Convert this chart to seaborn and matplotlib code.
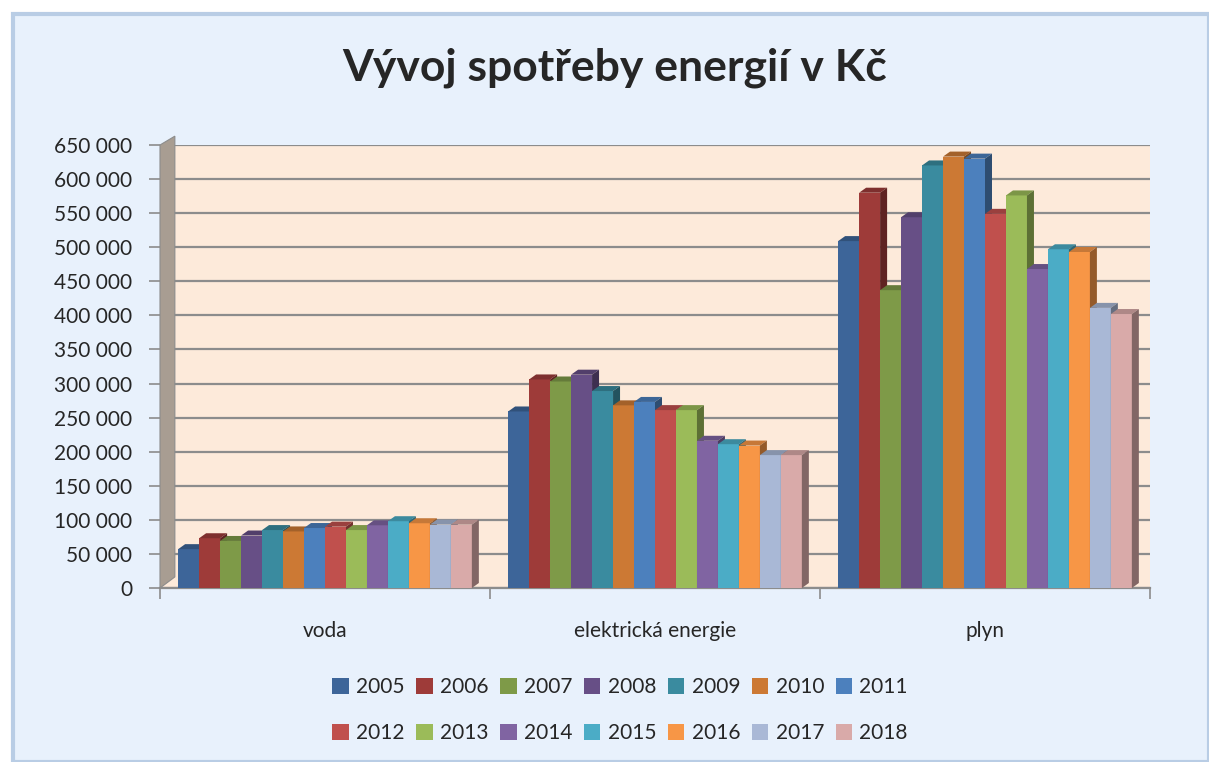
import pandas as pd
import matplotlib.pyplot as plt
import numpy as np
import seaborn as sns
from matplotlib.patches import FancyBboxPatch, Polygon, Patch
from matplotlib.ticker import FuncFormatter, FixedLocator

categories = ["voda", "elektrická energie", "plyn"]
years = ["2005", "2006", "2007", "2008", "2009", "2010", "2011",
         "2012", "2013", "2014", "2015", "2016", "2017", "2018"]
voda = [57000, 73000, 69000, 77000, 85000, 83000, 88000,
        90000, 85000, 92000, 98000, 95000, 93000, 93000]
elektrina = [259000, 306000, 303000, 313000, 289000, 268000, 273000,
             261000, 261000, 216000, 211000, 209000, 195000, 195000]
plyn = [509000, 580000, 437000, 544000, 620000, 633000, 630000,
        549000, 576000, 468000, 497000, 493000, 411000, 402000]
colors = ["#3D6599", "#9E3B39", "#7E9A48", "#674F86", "#3A8B9F", "#CC7934", "#4C80BD",
          "#C0504D", "#9BBB59", "#8064A2", "#4BACC6", "#F79646", "#A9B8D6", "#D9AAA9"]

df = pd.DataFrame({
    "kategorie": np.repeat(categories, len(years)),
    "rok": years * 3,
    "hodnota": voda + elektrina + plyn,
})

sns.set_style("white")
plt.rcParams['font.family'] = ['Lato', 'DejaVu Sans']

fig = plt.figure(figsize=(12.09, 7.62), dpi=100)
fig.patch.set_facecolor("white")
# chart frame
fig.patches.append(FancyBboxPatch((13 / 1209, 0.0), 1 - 13 / 1209, 1 - 14 / 762,
                                  boxstyle="square,pad=0", transform=fig.transFigure,
                                  facecolor="#E8F1FC", edgecolor="#B9CDE5", linewidth=3,
                                  zorder=-10))

ax = fig.add_axes([160 / 1209, 1 - 588 / 762, 990 / 1209, 443 / 762])
ax.set_facecolor("#FDEADA")
sns.barplot(data=df, x="kategorie", y="hodnota", hue="rok", palette=colors,
            width=0.89, gap=0, saturation=1, legend=False, ax=ax, zorder=3,
            linewidth=0)

ax.set_xlim(-0.5, 2.5)
ax.set_ylim(0, 650000)
ax.yaxis.set_major_locator(FixedLocator(np.arange(0, 650001, 50000)))
ax.yaxis.set_major_formatter(FuncFormatter(lambda v, p: f"{int(v):,}".replace(",", " ")))
ax.grid(axis="y", color="#8C8C8C", linewidth=1.6, zorder=0)
ax.set_axisbelow(True)
for s in ["top", "right", "left"]:
    ax.spines[s].set_visible(False)
ax.spines["bottom"].set_color("#8C8C8C")
ax.spines["bottom"].set_linewidth(1.6)
ax.set_xlabel("")
ax.set_ylabel("")
ax.tick_params(axis="y", labelsize=15, length=8, color="#8C8C8C", width=1.2, pad=12,
               left=True)
ax.tick_params(axis="x", labelsize=15, length=0, pad=24)
ax.set_xticks(range(3))
ax.set_xticklabels(categories)
ax.set_xticks([-0.5, 0.5, 1.5, 2.5], minor=True)
ax.tick_params(axis="x", which="minor", length=8, color="#8C8C8C", width=1.2, bottom=True)

# left side wall
ax.add_patch(Polygon([(0, 0), (0, 1), (0.015, 1.02), (0.015, 0.025)], closed=True,
                     transform=ax.transAxes, facecolor="#A89D92", edgecolor="#8C8C8C",
                     linewidth=0.8, clip_on=False, zorder=2))

# pseudo 3D faces from the bar geometry
fig.canvas.draw()
bb = ax.get_window_extent()
dx = 7 * 3.0 / bb.width
dy = 5 * 650000 / bb.height
bars = sorted(ax.patches[:-1], key=lambda p: p.get_x())
for k, p in enumerate(bars):
    x0, w, h = p.get_x(), p.get_width(), p.get_height()
    c = np.array(p.get_facecolor()[:3])
    z = 4 + k * 0.01
    p.set_zorder(z)
    top = Polygon([(x0, h), (x0 + w, h), (x0 + w + dx, h + dy), (x0 + dx, h + dy)],
                  facecolor=c * 0.8, edgecolor="none", zorder=z)
    side = Polygon([(x0 + w, 0), (x0 + w + dx, dy), (x0 + w + dx, h + dy), (x0 + w, h)],
                   facecolor=c * 0.6, edgecolor="none", zorder=z)
    ax.add_patch(top)
    ax.add_patch(side)

fig.text(615 / 1209, 1 - 68 / 762, "Vývoj spotřeby energií v Kč", ha="center", va="center",
         fontsize=32, fontweight="bold")

# legend filled row by row
order = [i for pair in zip(range(7), range(7, 14)) for i in pair]
handles = [Patch(facecolor=colors[i], edgecolor="none") for i in order]
labels = [years[i] for i in order]
fig.legend(handles, labels, loc="center", bbox_to_anchor=(620 / 1209, 1 - 710 / 762),
           ncol=7, frameon=False, fontsize=15, handlelength=0.8, handleheight=0.8,
           handletextpad=0.35, columnspacing=0.55, labelspacing=1.25)

fig.savefig("out.png", dpi=100)
